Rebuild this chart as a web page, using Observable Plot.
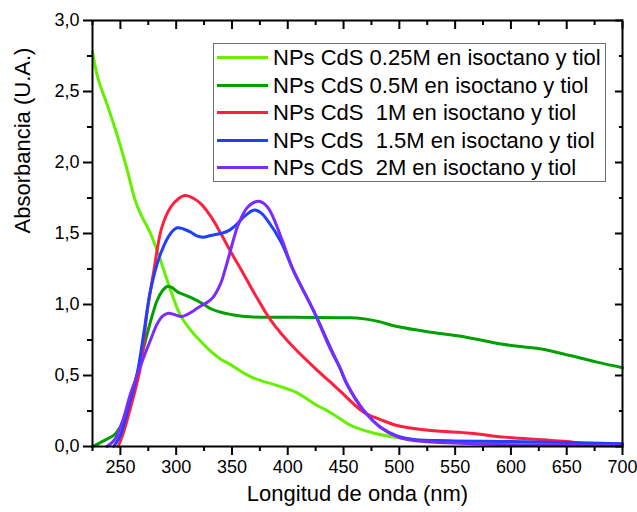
<!DOCTYPE html>
<html>
<head>
<meta charset="utf-8">
<script src="https://cdn.jsdelivr.net/npm/d3@7"></script>
<script src="https://cdn.jsdelivr.net/npm/@observablehq/plot@0.6"></script>
<style>
  html, body { margin: 0; padding: 0; background: #fff; }
  #wrap { position: relative; width: 637px; height: 512px; font-family: "Liberation Sans", Arial, sans-serif; }
  #legend { position: absolute; left: 213px; top: 43px; width: 393px; height: 139px; box-sizing: border-box;
            border: 1px solid #6e6e6e; background: #fff; }
  .row { position: absolute; left: 0; height: 27.5px; width: 100%; }
  .sw { position: absolute; left: 3px; width: 51px; height: 3px; top: 12px; }
  .lab { position: absolute; left: 59px; top: 0; line-height: 27.5px; font-size: 22px; white-space: pre; color: #000; }
</style>
</head>
<body>
<div id="wrap"></div>
<script>
// ---- data ----
const seriesNames = [
  "NPs CdS 0.25M en isoctano y tiol",
  "NPs CdS 0.5M en isoctano y tiol",
  "NPs CdS  1M en isoctano y tiol",
  "NPs CdS  1.5M en isoctano y tiol",
  "NPs CdS  2M en isoctano y tiol"
];
const seriesColors = ["#66f000", "#00a000", "#ff1f3f", "#2040ff", "#7a2cff"];

const wl025  = [225, 230, 238, 246, 255, 263, 268, 277, 286, 295, 304, 315, 322, 331, 340, 349, 360, 370, 390, 408, 423, 438, 447, 456, 474, 492, 513, 550, 600, 650, 700];
const abs025 = [2.78, 2.59, 2.41, 2.22, 1.98, 1.74, 1.64, 1.50, 1.31, 1.10, 0.92, 0.80, 0.74, 0.67, 0.615, 0.575, 0.52, 0.48, 0.43, 0.38, 0.305, 0.24, 0.195, 0.15, 0.10, 0.07, 0.047, 0.035, 0.03, 0.025, 0.02];

const wl05  = [225, 235, 245, 250, 255, 263, 271, 277, 283, 288, 292, 296, 301, 313, 325, 331, 340, 349, 362, 376, 405, 447, 462, 480, 498, 528, 552, 573, 594, 626, 653, 677, 700];
const abs05 = [0, 0.04, 0.085, 0.14, 0.23, 0.45, 0.70, 0.88, 1.03, 1.10, 1.127, 1.12, 1.09, 1.05, 1.00, 0.97, 0.945, 0.93, 0.915, 0.91, 0.91, 0.906, 0.905, 0.883, 0.845, 0.805, 0.78, 0.75, 0.718, 0.688, 0.641, 0.594, 0.555];

const wl1  = [248, 252, 260, 268, 274, 280, 287, 295, 302, 308, 315, 322, 331, 340, 349, 360, 370, 385, 405, 426, 438, 447, 468, 483, 498, 528, 564, 594, 630, 650, 668, 700];
const abs1 = [0, 0.08, 0.30, 0.56, 0.95, 1.24, 1.54, 1.685, 1.745, 1.768, 1.75, 1.71, 1.62, 1.50, 1.37, 1.22, 1.08, 0.887, 0.70, 0.54, 0.455, 0.39, 0.242, 0.19, 0.148, 0.113, 0.094, 0.066, 0.047, 0.035, 0.02, 0.015];

const wl15  = [244, 250, 258, 265, 271, 277, 286, 295, 301, 307, 313, 318, 324, 331, 340, 347, 355, 361, 370, 376, 382, 394, 405, 423, 438, 447, 453, 468, 483, 498, 513, 543, 600, 650, 700];
const abs15 = [0, 0.08, 0.30, 0.51, 0.80, 1.10, 1.357, 1.50, 1.54, 1.53, 1.51, 1.485, 1.474, 1.486, 1.50, 1.52, 1.57, 1.62, 1.665, 1.645, 1.59, 1.44, 1.24, 0.958, 0.70, 0.55, 0.44, 0.254, 0.136, 0.075, 0.05, 0.04, 0.035, 0.028, 0.02];

const wl2  = [238, 245, 252, 259, 265, 271, 277, 283, 288, 293, 298, 305, 310, 316, 322, 328, 333, 340, 344, 349, 352, 355, 364, 374, 382, 394, 405, 423, 438, 447, 453, 468, 483, 498, 513, 543, 600, 650, 700];
const abs2 = [0, 0.05, 0.18, 0.37, 0.50, 0.63, 0.75, 0.864, 0.92, 0.939, 0.93, 0.915, 0.93, 0.958, 0.99, 1.016, 1.05, 1.15, 1.25, 1.39, 1.474, 1.55, 1.685, 1.727, 1.685, 1.474, 1.24, 0.958, 0.69, 0.55, 0.44, 0.254, 0.136, 0.07, 0.042, 0.026, 0.012, 0.008, 0.005];

const xMajor = [250, 300, 350, 400, 450, 500, 550, 600, 650, 700];
const xMinor = [225, 275, 325, 375, 425, 475, 525, 575, 625, 675];
const yMajor = [0, 0.5, 1.0, 1.5, 2.0, 2.5, 3.0];
const yMinor = [0.25, 0.75, 1.25, 1.75, 2.25, 2.75];
const xTitle = "Longitud de onda (nm)";
const yTitle = "Absorbancia (U.A.)";

// ---- build tidy table ----
const wls = [wl025, wl05, wl1, wl15, wl2];
const abss = [abs025, abs05, abs1, abs15, abs2];
const rows = [];
seriesNames.forEach((name, i) => {
  wls[i].forEach((w, j) => rows.push({series: name, wl: w, a: abss[i][j]}));
});

const fmtY = d => d.toFixed(1).replace(".", ",");
const none = () => "";

const chart = Plot.plot({
  width: 637,
  height: 512,
  marginLeft: 92,
  marginRight: 15,
  marginTop: 20,
  marginBottom: 66,
  style: {fontFamily: "'Liberation Sans', Arial, sans-serif", fontSize: "18px", color: "#000", background: "#fff", overflow: "visible"},
  x: {domain: [225, 700]},
  y: {domain: [0, 3]},
  color: {domain: seriesNames, range: seriesColors},
  marks: [
    ...seriesNames.map((name) => Plot.line(rows.filter(r => r.series === name), {
      x: "wl", y: "a", stroke: "series", strokeWidth: 3, curve: "catmull-rom"
    })),
    Plot.frame({stroke: "#000", strokeWidth: 2}),
    Plot.axisX(xMajor, {anchor: "bottom", tickSize: 9, tickPadding: 5, strokeWidth: 2, tickFormat: d => String(d), label: null, fontSize: 18}),
    Plot.axisX(xMinor, {anchor: "bottom", tickSize: 5, strokeWidth: 2, tickFormat: none, label: null}),
    Plot.axisX(xMajor, {anchor: "top", tickSize: 8, dy: 8, strokeWidth: 2, tickFormat: none, label: null}),
    Plot.axisX(xMinor, {anchor: "top", tickSize: 4, dy: 4, strokeWidth: 2, tickFormat: none, label: null}),
    Plot.axisY(yMajor, {anchor: "left", tickSize: 9, tickPadding: 4, strokeWidth: 2, tickFormat: fmtY, label: null, fontSize: 18}),
    Plot.axisY(yMinor, {anchor: "left", tickSize: 5, strokeWidth: 2, tickFormat: none, label: null}),
    Plot.axisY(yMajor, {anchor: "right", tickSize: 8, dx: -8, strokeWidth: 2, tickFormat: none, label: null}),
    Plot.axisY(yMinor, {anchor: "right", tickSize: 4, dx: -4, strokeWidth: 2, tickFormat: none, label: null}),
    Plot.text([xTitle], {frameAnchor: "bottom", dy: 54, fontSize: 22, fill: "#000"}),
    Plot.text([yTitle], {frameAnchor: "left", dx: -70, rotate: -90, fontSize: 22, fill: "#000"})
  ]
});

const wrap = document.getElementById("wrap");
wrap.appendChild(chart);

// ---- legend (HTML overlay) ----
const legend = document.createElement("div");
legend.id = "legend";
seriesNames.forEach((name, i) => {
  const row = document.createElement("div");
  row.className = "row";
  row.style.top = (i * 27.5) + "px";
  const sw = document.createElement("div");
  sw.className = "sw";
  sw.style.background = seriesColors[i];
  const lab = document.createElement("div");
  lab.className = "lab";
  lab.textContent = name;
  row.appendChild(sw);
  row.appendChild(lab);
  legend.appendChild(row);
});
wrap.appendChild(legend);
</script>
</body>
</html>
